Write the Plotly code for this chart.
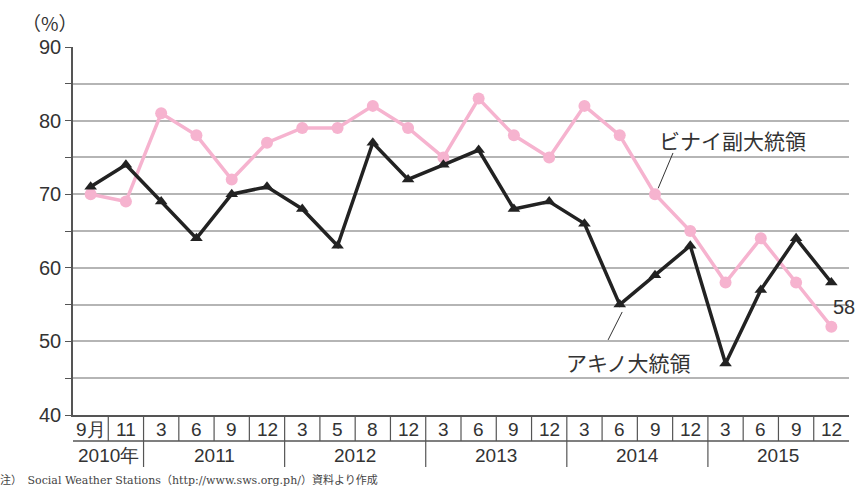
import plotly.graph_objects as go

months = ["9月", "11", "3", "6", "9", "12", "3", "5", "8", "12", "3", "6", "9", "12",
          "3", "6", "9", "12", "3", "6", "9", "12"]
years = ["2010年", "2011", "2012", "2013", "2014", "2015"]
year_counts = [2, 4, 4, 4, 4, 4]
aquino = [71, 74, 69, 64, 70, 71, 68, 63, 77, 72, 74, 76, 68, 69, 66, 55, 59, 63, 47, 57, 64, 58]
binay = [70, 69, 81, 78, 72, 77, 79, 79, 82, 79, 75, 83, 78, 75, 82, 78, 70, 65, 58, 64, 58, 52]
yticks = [40, 50, 60, 70, 80, 90]

x = list(range(len(months)))
FONT = "Liberation Sans, Arial, sans-serif"
JFONT = "Noto Sans CJK JP, sans-serif"

L, R, T, B = 73, 11, 47, 74
W, HT = 860, 489
PW = W - L - R
PH = HT - T - B

def px_x(p):
    return (p - L) / PW

def px_y(p):
    return (HT - B - p) / PH

fig = go.Figure()
fig.add_trace(go.Scatter(x=x, y=binay, mode="lines+markers",
                         line=dict(color="#f6b3cf", width=3.5),
                         marker=dict(symbol="circle", size=12, color="#f6b3cf"),
                         showlegend=False))
fig.add_trace(go.Scatter(x=x, y=aquino, mode="lines+markers",
                         line=dict(color="#222222", width=3.5),
                         marker=dict(symbol="triangle-up", size=11, color="#222222"),
                         showlegend=False))

axis_y = HT - B
shapes = []
n = len(months)
shapes.append(dict(type="line", xref="x", yref="paper", x0=-0.5, x1=n - 0.5,
                   y0=px_y(axis_y + 26), y1=px_y(axis_y + 26), line=dict(color="#555", width=1.5)))
for i in range(n - 1):
    shapes.append(dict(type="line", xref="x", yref="paper", x0=i + 0.5, x1=i + 0.5,
                       y0=0, y1=px_y(axis_y + 26), line=dict(color="#555", width=1.2)))
acc = 0
year_centers = []
for c in year_counts:
    year_centers.append(acc - 0.5 + c / 2.0)
    acc += c
    if acc < n:
        shapes.append(dict(type="line", xref="x", yref="paper", x0=acc - 0.5, x1=acc - 0.5,
                           y0=px_y(axis_y + 26), y1=px_y(axis_y + 52),
                           line=dict(color="#555", width=1.2)))
# leader lines
shapes.append(dict(type="line", xref="x", yref="y", x0=16.09, y0=70.8, x1=16.51, y1=75.6,
                   line=dict(color="#333", width=1)))
shapes.append(dict(type="line", xref="x", yref="y", x0=15.07, y0=54.0, x1=14.67, y1=50.2,
                   line=dict(color="#333", width=1)))

ann = []
for i, m in enumerate(months):
    ann.append(dict(x=i, y=px_y(axis_y + 15), xref="x", yref="paper", text=m, showarrow=False,
                    font=dict(family=FONT, size=19, color="#333"), yanchor="middle"))
for yc, yl in zip(year_centers, years):
    ann.append(dict(x=yc, y=px_y(axis_y + 40), xref="x", yref="paper", text=yl, showarrow=False,
                    font=dict(family=FONT, size=19, color="#333"), yanchor="middle"))
ann.append(dict(x=16.05, y=77.4, xref="x", yref="y", text="ビナイ副大統領", showarrow=False,
                xanchor="left", yanchor="middle", font=dict(family=JFONT, size=21, color="#333")))
ann.append(dict(x=15.26, y=47.2, xref="x", yref="y", text="アキノ大統領", showarrow=False,
                xanchor="center", yanchor="middle", font=dict(family=JFONT, size=21, color="#333")))
ann.append(dict(x=20.98, y=54.7, xref="x", yref="y", text=str(aquino[-1]), showarrow=False,
                xanchor="left", yanchor="middle", font=dict(family=FONT, size=20, color="#333")))
ann.append(dict(x=px_x(50), y=px_y(22), xref="paper", yref="paper", text="（%）",
                showarrow=False, xanchor="center", yanchor="middle",
                font=dict(family=JFONT, size=19, color="#333")))
ann.append(dict(x=px_x(-2), y=px_y(489), xref="paper", yref="paper",
                text="注）　Social Weather Stations（http://www.sws.org.ph/）資料より作成",
                showarrow=False, xanchor="left", yanchor="bottom",
                font=dict(family="DejaVu Serif, Noto Sans CJK JP, serif", size=11, color="#444")))

fig.update_layout(
    width=W, height=HT,
    margin=dict(l=L, r=R, t=T, b=B),
    paper_bgcolor="white", plot_bgcolor="white",
    shapes=shapes, annotations=ann,
    xaxis=dict(range=[-0.5, n - 0.5], showgrid=False, showticklabels=False, ticks="",
               zeroline=False, showline=True, linecolor="#555", linewidth=1.5),
    yaxis=dict(range=[40, 90], tickvals=list(range(40, 91, 5)),
               ticktext=[str(v) if v in yticks else "" for v in range(40, 91, 5)],
               showgrid=True, gridcolor="#b5b5b5", gridwidth=1.5,
               zeroline=False, showline=True, linecolor="#555", linewidth=1.5,
               ticks="outside", ticklen=6, tickcolor="#555", tickwidth=1.2,
               tickfont=dict(family=FONT, size=20, color="#333")),
)

fig.write_html("out.html")
